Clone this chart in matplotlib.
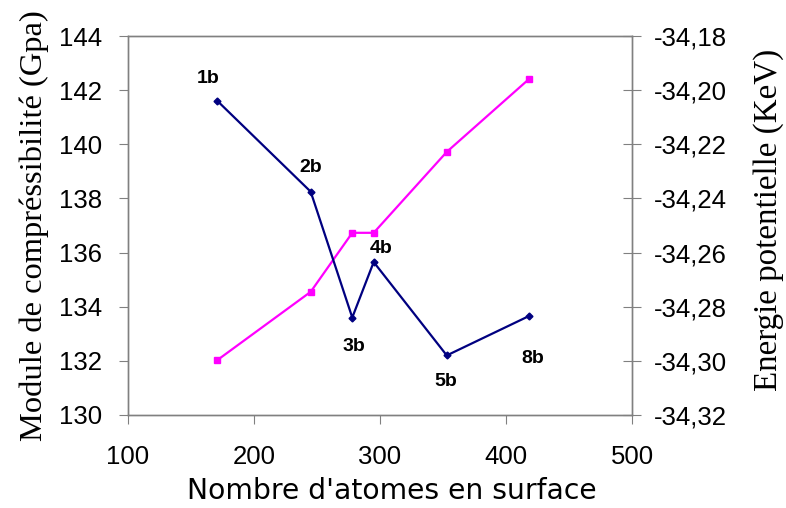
import matplotlib
matplotlib.use("Agg")
import matplotlib.pyplot as plt

# Data
atoms = [171, 245, 278, 295, 353, 418]
labels = ["1b", "2b", "3b", "4b", "5b", "8b"]
modulus = [141.6, 138.25, 133.6, 135.65, 132.2, 133.65]
energy = [-34.2997, -34.2745, -34.2527, -34.2527, -34.2228, -34.1960]
x_ticks = [100, 200, 300, 400, 500]
left_ticks = [130, 132, 134, 136, 138, 140, 142, 144]
right_ticks = [-34.32, -34.30, -34.28, -34.26, -34.24, -34.22, -34.20, -34.18]
label_offsets = [(-9, 22), (0, 24), (2, -29), (7, 14), (-1, -26), (4, -42)]

fig = plt.figure(figsize=(7.86, 5.08), dpi=100)
ax = fig.add_axes([0.1628, 0.1831, 0.8041 - 0.1628, 0.9291 - 0.1831])
ax2 = ax.twinx()

spine_col = "#808080"
for a in (ax, ax2):
    for s in a.spines.values():
        s.set_color(spine_col)
        s.set_linewidth(1.0)

ax.plot(atoms, modulus, color="#000080", lw=1.6, marker="D", ms=3.5, zorder=3)
ax2.plot(atoms, energy, color="#FF00FF", lw=1.6, marker="s", ms=5, zorder=2)
ax.set_zorder(ax2.get_zorder() + 1)
ax.patch.set_visible(False)

for xv, yv, lab, off in zip(atoms, modulus, labels, label_offsets):
    ax.annotate(lab, (xv, yv), xytext=off, textcoords="offset pixels",
                ha="center", va="center", fontsize=14, fontweight="bold",
                family="Liberation Sans")

ax.set_xlim(100, 500)
ax.set_ylim(130, 144)
ax2.set_ylim(-34.32, -34.18)
ax.set_xticks(x_ticks)
ax.set_yticks(left_ticks)
ax2.set_yticks(right_ticks)
ax2.set_yticklabels([f"{v:.2f}".replace(".", ",") for v in right_ticks])

for lab in ax.get_xticklabels() + ax.get_yticklabels() + ax2.get_yticklabels():
    lab.set_fontfamily("Liberation Sans")
    lab.set_fontsize(18.5)

ax.tick_params(axis="x", direction="out", length=6.5, color=spine_col, pad=15)
ax.tick_params(axis="y", direction="out", length=6.5, color=spine_col, pad=12)
ax2.tick_params(axis="y", direction="inout", length=13, color=spine_col, pad=9)

ax.set_xlabel("Nombre d'atomes en surface", fontsize=20.3, family="DejaVu Sans")
ax.xaxis.set_label_coords(0.524, -0.200)
ax.xaxis.label.set_va("center")
ax.set_ylabel("Module de compréssibilité (Gpa)", fontsize=23.4, family="Liberation Serif")
ax2.set_ylabel("Energie potentielle (KeV)", fontsize=23.8, family="Liberation Serif")
ax.yaxis.set_label_coords(-0.186, 0.5)
ax.yaxis.label.set_va("center")
ax2.yaxis.set_label_coords(1.27, 0.514)
ax2.yaxis.label.set_va("center")

fig.savefig("out.png", dpi=100)
